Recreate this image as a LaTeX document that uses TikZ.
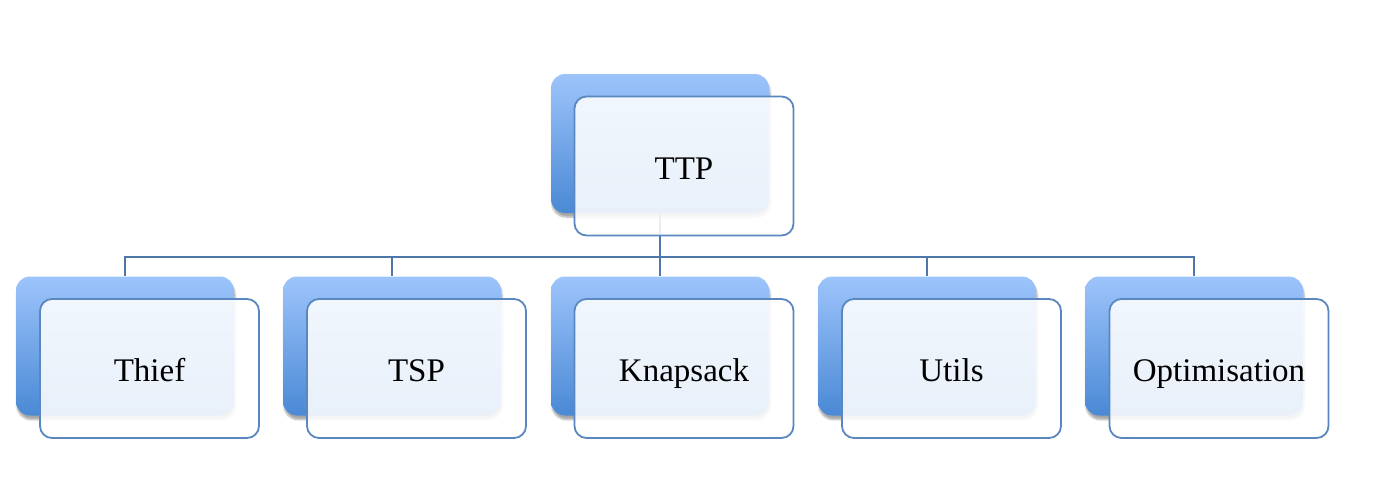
\documentclass[tikz,border=0pt]{standalone}
\usepackage{fontspec}
\setmainfont{Liberation Serif}
\usetikzlibrary{shadows.blur}
\definecolor{gtop}{HTML}{9DC4FB}
\definecolor{gbot}{HTML}{4A89D5}
\definecolor{frameblue}{HTML}{5A87BF}
\definecolor{linkblue}{HTML}{4F76A8}
\tikzset{
  backbox/.style={rounded corners=14pt, minimum width=218pt, minimum height=139pt,
    top color=gtop, bottom color=gbot, draw=none, inner sep=0pt,
    blur shadow={shadow xshift=1pt, shadow yshift=-4pt, shadow blur steps=6, shadow opacity=35}},
  frontbox/.style={rounded corners=12pt, minimum width=219pt, minimum height=139pt,
    draw=frameblue, line width=1.8pt, fill=white, fill opacity=0.88, text opacity=1,
    inner sep=0pt, text height=29pt, text depth=3pt,
    font=\fontsize{33}{38}\selectfont},
  conn/.style={draw=linkblue, line width=1.8pt}
}
\begin{document}
\begin{tikzpicture}[x=1pt,y=-1pt]
\useasboundingbox (0,0) rectangle (1376,479);
% back boxes
\node[backbox] (tb) at (660,143.5) {};
\node[backbox] (b1) at (125,346) {};
\node[backbox] (b2) at (392,346) {};
\node[backbox] (b3) at (660,346) {};
\node[backbox] (b4) at (927,346) {};
\node[backbox] (b5) at (1194,346) {};
% connectors
\coordinate (j) at (660,257);
\draw[conn] (tb.south) -- (tb.south |- j) -| (b1.north);
\draw[conn] (tb.south |- j) -| (b2.north);
\draw[conn] (tb.south |- j) -- (b3.north);
\draw[conn] (tb.south |- j) -| (b4.north);
\draw[conn] (tb.south |- j) -| (b5.north);
% front boxes
\node[frontbox] (tf) at (684,166) {TTP};
\node[frontbox] (f1) at (149.5,368.5) {Thief};
\node[frontbox] (f2) at (416.5,368.5) {TSP};
\node[frontbox] (f3) at (684,368.5) {Knapsack};
\node[frontbox] (f4) at (951.5,368.5) {Utils};
\node[frontbox] (f5) at (1219,368.5) {Optimisation};
\end{tikzpicture}
\end{document}
